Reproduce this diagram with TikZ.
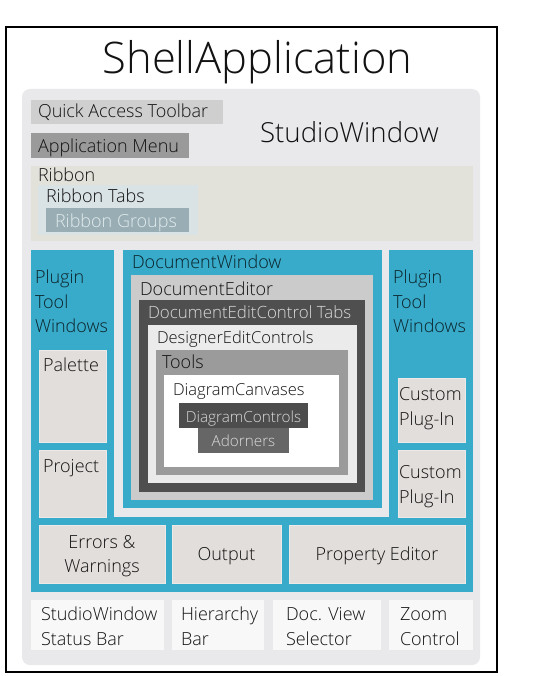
\documentclass[tikz,border=0pt]{standalone}
\usepackage{fontspec}
\IfFontExistsTF{Open Sans Light}{\setmainfont{Open Sans Light}}{\setmainfont{Open Sans}}
\definecolor{studiobg}{HTML}{E9E8EB}
\definecolor{qatC}{HTML}{CFCFCF}
\definecolor{appmenuC}{HTML}{9A9A9A}
\definecolor{ribbonC}{HTML}{E2E1DA}
\definecolor{ribtabsC}{HTML}{D9E2E5}
\definecolor{ribgroupsC}{HTML}{98AEB4}
\definecolor{ribgroupsT}{HTML}{E2EAEC}
\definecolor{blueC}{HTML}{39ABCA}
\definecolor{panelC}{HTML}{E2DEDB}
\definecolor{panelEdge}{HTML}{ECEAE8}
\definecolor{doceditorC}{HTML}{CBCBCB}
\definecolor{tabsC}{HTML}{4F4F4F}
\definecolor{lightT}{HTML}{DADADA}
\definecolor{designerC}{HTML}{EBEBEB}
\definecolor{toolsC}{HTML}{9B9B9B}
\definecolor{dctrlC}{HTML}{4D4D4D}
\definecolor{adornC}{HTML}{666666}
\definecolor{statusC}{HTML}{F8F8F8}
\definecolor{txtC}{HTML}{121212}
\definecolor{blueT}{HTML}{0A2229}
\begin{document}
\begin{tikzpicture}[x=1pt,y=-1pt,
  lbl/.style={inner sep=0pt, outer sep=0pt, anchor=base west, text=txtC,
    font=\fontsize{18}{25}\selectfont},
  clbl/.style={inner sep=0pt, outer sep=0pt, anchor=base, text=txtC,
    font=\fontsize{18}{25}\selectfont},
  panel/.style={fill=panelC, draw=panelEdge, line width=0.8pt}]
\useasboundingbox (0,0) rectangle (538,676);
\fill[white] (0,0) rectangle (538,676);
% ShellApplication frame
\draw[line width=2pt, fill=white] (6,27) rectangle (497,672);
\node[inner sep=0pt, anchor=base, font=\fontsize{43.5}{48}\selectfont, text=txtC] (shell) at (257.5,74) {ShellApplication};
% StudioWindow
\fill[studiobg, rounded corners=8pt] (22,89) rectangle (480,665);
\node[inner sep=0pt, anchor=base west, font=\fontsize{27.6}{32}\selectfont, text=txtC] (studio) at (260,143) {StudioWindow};
% Quick access, app menu
\fill[qatC] (31,100) rectangle (223,124);
\node[lbl] (qat) at (38,118) {Quick Access Toolbar};
\fill[appmenuC] (31,133) rectangle (189,158);
\node[lbl] (appmenu) at (38,153) {Application Menu};
% Ribbon
\fill[ribbonC] (31,166) rectangle (473,241);
\node[lbl] (ribbon) at (38,182) {Ribbon};
\fill[ribtabsC] (38,185) rectangle (198,235);
\node[lbl] (ribtabs) at (46,203) {Ribbon Tabs};
\fill[ribgroupsC] (46,208) rectangle (189,232);
\node[lbl, text=ribgroupsT] (ribgroups) at (55,227) {Ribbon Groups};
% blue tool-window area
\fill[blueC] (31,250) rectangle (473,592);
\fill[studiobg] (114,242) rectangle (389,517);
% Document window nest
\fill[blueC] (123,250) rectangle (382,508);
\node[lbl, text=blueT] (docwin) at (132,268) {DocumentWindow};
\fill[doceditorC] (131,275) rectangle (373,500);
\node[lbl] (doced) at (140,295) {DocumentEditor};
\fill[tabsC] (139,300) rectangle (365,492);
\node[lbl, text=lightT, font=\fontsize{16.9}{22}\selectfont] (tabs) at (148,318) {DocumentEditControl Tabs};
\fill[designerC] (148,325) rectangle (357,483);
\node[lbl, font=\fontsize{16.5}{22}\selectfont] (designer) at (157,343) {DesignerEditControls};
\fill[toolsC] (156,350) rectangle (348,475);
\node[lbl] (tools) at (162,368) {Tools};
\fill[white] (164,375) rectangle (339,467);
\node[lbl, font=\fontsize{16.5}{22}\selectfont] (canvases) at (173,395) {DiagramCanvases};
\fill[dctrlC] (179,403) rectangle (308,428);
\node[clbl, text=lightT, font=\fontsize{15.3}{20}\selectfont] (dctrl) at (243.5,422) {DiagramControls};
\fill[adornC] (198,428) rectangle (289,453);
\node[clbl, text=lightT, font=\fontsize{15.3}{20}\selectfont] (adorn) at (243.5,446) {Adorners};
% Left plugin tool windows
\node[lbl, text=blueT] (plugLa) at (35,283) {Plugin};
\node[lbl, text=blueT] (plugLb) at (35,308) {Tool};
\node[lbl, text=blueT] (plugLc) at (35,332) {Windows};
\path[panel] (39,350) rectangle (106,442);
\node[lbl] (palette) at (43,371) {Palette};
\path[panel] (39,450) rectangle (106,517);
\node[lbl] (project) at (43,472) {Project};
% Right plugin tool windows
\node[lbl, text=blueT] (plugRa) at (393,283) {Plugin};
\node[lbl, text=blueT] (plugRb) at (393,308) {Tool};
\node[lbl, text=blueT] (plugRc) at (393,332) {Windows};
\path[panel] (398,378) rectangle (465,442);
\node[lbl] (custom1a) at (399,400) {Custom};
\node[lbl] (custom1b) at (399,425) {Plug-In};
\path[panel] (398,450) rectangle (465,517);
\node[lbl] (custom2a) at (399,478) {Custom};
\node[lbl] (custom2b) at (399,503) {Plug-In};
% Bottom tool windows
\path[panel] (39,525) rectangle (165,583);
\node[clbl] (errors) at (102,548) {Errors \&};
\node[clbl] (warnings) at (102,572) {Warnings};
\path[panel] (172,525) rectangle (281,583);
\node[clbl] (output) at (226.5,560) {Output};
\path[panel] (289,525) rectangle (465,583);
\node[clbl] (propedit) at (377,560) {Property Editor};
% Status bar row
\fill[statusC] (31,600) rectangle (164,650);
\node[lbl] (statusa) at (41,620) {StudioWindow};
\node[lbl] (statusb) at (41,645) {Status Bar};
\fill[statusC] (172,600) rectangle (264,650);
\node[lbl] (hiera) at (181,620) {Hierarchy};
\node[lbl] (hierb) at (181,645) {Bar};
\fill[statusC] (273,600) rectangle (381,650);
\node[lbl] (docviewa) at (286,620) {Doc. View};
\node[lbl] (docviewb) at (286,645) {Selector};
\fill[statusC] (389,600) rectangle (473,650);
\node[lbl] (zooma) at (400,620) {Zoom};
\node[lbl] (zoomb) at (400,645) {Control};
\end{tikzpicture}
\end{document}
